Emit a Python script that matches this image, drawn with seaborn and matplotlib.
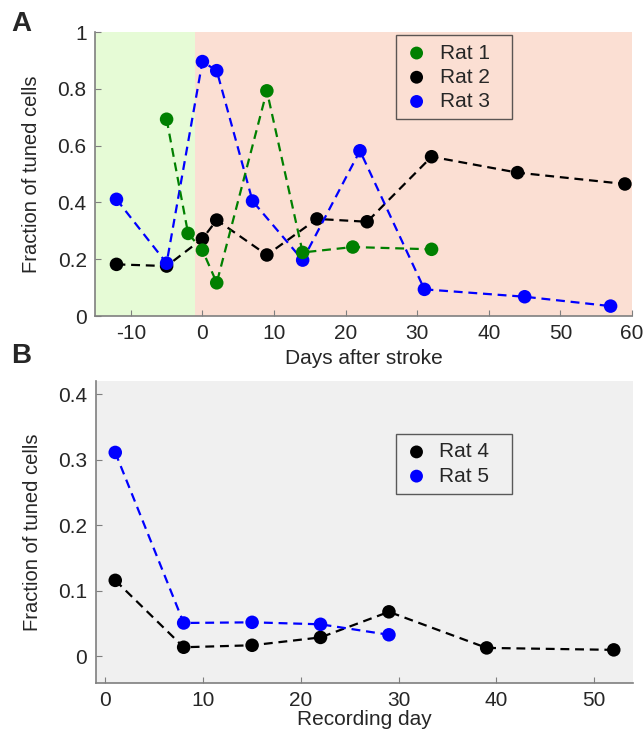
import numpy as np
import pandas as pd
import matplotlib
matplotlib.use('Agg')
import matplotlib.pyplot as plt
import seaborn as sns

# Panel A: fraction of tuned cells vs days after stroke
rat1_days = [-5, -2, 0, 2, 9, 14, 21, 32]
rat1_frac = [0.693, 0.291, 0.232, 0.117, 0.793, 0.224, 0.243, 0.235]
rat2_days = [-12, -5, 0, 2, 9, 16, 23, 32, 44, 59]
rat2_frac = [0.182, 0.176, 0.272, 0.338, 0.215, 0.342, 0.332, 0.561, 0.505, 0.465]
rat3_days = [-12, -5, 0, 2, 7, 14, 22, 31, 45, 57]
rat3_frac = [0.411, 0.186, 0.896, 0.864, 0.405, 0.197, 0.582, 0.094, 0.068, 0.035]

# Panel B: fraction of tuned cells vs recording day
rat4_days = [1, 8, 15, 22, 29, 39, 52]
rat4_frac = [0.116, 0.014, 0.017, 0.029, 0.068, 0.013, 0.010]
rat5_days = [1, 8, 15, 22, 29]
rat5_frac = [0.311, 0.051, 0.052, 0.049, 0.033]

stroke_day = -1

colors = {'Rat 1': '#008000', 'Rat 2': '#000000', 'Rat 3': '#0000ff',
          'Rat 4': '#000000', 'Rat 5': '#0000ff'}

df_a = pd.concat([
    pd.DataFrame({'day': rat1_days, 'frac': rat1_frac, 'rat': 'Rat 1'}),
    pd.DataFrame({'day': rat2_days, 'frac': rat2_frac, 'rat': 'Rat 2'}),
    pd.DataFrame({'day': rat3_days, 'frac': rat3_frac, 'rat': 'Rat 3'}),
], ignore_index=True)
df_b = pd.concat([
    pd.DataFrame({'day': rat4_days, 'frac': rat4_frac, 'rat': 'Rat 4'}),
    pd.DataFrame({'day': rat5_days, 'frac': rat5_frac, 'rat': 'Rat 5'}),
], ignore_index=True)

sns.set_theme(style='white')
plt.rcParams['font.family'] = ['Liberation Sans', 'DejaVu Sans']
plt.rcParams['axes.unicode_minus'] = False

fig = plt.figure(figsize=(6.44, 7.35), dpi=100)
ax_a = fig.add_axes([0.1475, 0.570, 0.834, 0.3864])
ax_b = fig.add_axes([0.1486, 0.0712, 0.8348, 0.4105])

FS = 15
TXT = '#262626'


def draw_panel(ax, df, order, zorders):
    for rat in order:
        sub = df[df['rat'] == rat]
        sns.lineplot(data=sub, x='day', y='frac', ax=ax, color=colors[rat],
                     linestyle='--', linewidth=1.6, legend=False,
                     dashes=False, zorder=zorders[rat])
        ax.lines[-1].set_dashes((4, 2.6))
        sns.scatterplot(data=sub, x='day', y='frac', ax=ax, color=colors[rat],
                        s=95, edgecolor='none', label=rat,
                        zorder=zorders[rat] + 0.5)


def style_axes(ax):
    for side in ['top', 'right']:
        ax.spines[side].set_visible(False)
    for side in ['left', 'bottom']:
        ax.spines[side].set_color('#7f7f7f')
        ax.spines[side].set_linewidth(1.2)
    ax.tick_params(direction='in', length=4, width=0.8, color='#7f7f7f',
                   labelsize=FS, labelcolor=TXT, pad=6,
                   left=True, bottom=True)
    ax.set_ylabel('Fraction of tuned cells', fontsize=14.5, color=TXT,
                  labelpad=12)


def add_legend(ax, anchor):
    leg = ax.legend(loc='upper left', bbox_to_anchor=anchor, mode='expand',
                    fontsize=15, frameon=True, fancybox=False,
                    borderaxespad=0, handletextpad=0.5, borderpad=0.4,
                    labelspacing=0.25, handlelength=1.2, markerscale=0.95)
    leg.get_frame().set_facecolor('none')
    leg.get_frame().set_edgecolor('#333333')
    leg.get_frame().set_linewidth(1.0)


# Panel A
ax_a.axvspan(-15, stroke_day, color='#e6fbd6', zorder=0, lw=0)
ax_a.axvspan(stroke_day, 60, color='#fbdfd3', zorder=0, lw=0)
draw_panel(ax_a, df_a, ['Rat 1', 'Rat 2', 'Rat 3'],
           {'Rat 2': 2, 'Rat 3': 3, 'Rat 1': 4})
ax_a.set_xlim(-15, 60)
ax_a.set_ylim(0, 1)
ax_a.set_xticks([-10, 0, 10, 20, 30, 40, 50, 60])
ax_a.set_yticks([0, 0.2, 0.4, 0.6, 0.8, 1])
ax_a.set_yticklabels(['0', '0.2', '0.4', '0.6', '0.8', '1'])
style_axes(ax_a)
ax_a.set_xlabel('Days after stroke', fontsize=FS, color=TXT, labelpad=4)
add_legend(ax_a, (0.56, 0.989, 0.216, 0.0))

# Panel B
ax_b.set_facecolor('#f0f0f0')
draw_panel(ax_b, df_b, ['Rat 4', 'Rat 5'], {'Rat 4': 2, 'Rat 5': 3})
ax_b.set_xlim(-1, 54)
ax_b.set_ylim(-0.04, 0.42)
ax_b.set_xticks([0, 10, 20, 30, 40, 50])
ax_b.set_yticks([0, 0.1, 0.2, 0.3, 0.4])
ax_b.set_yticklabels(['0', '0.1', '0.2', '0.3', '0.4'])
style_axes(ax_b)
ax_b.set_xlabel('Recording day', fontsize=FS, color=TXT, labelpad=0)
add_legend(ax_b, (0.558, 0.824, 0.216, 0.0))

fig.text(0.018, 0.967, 'A', fontsize=20, fontweight='bold', va='center')
fig.text(0.018, 0.516, 'B', fontsize=20, fontweight='bold', va='center')

fig.savefig('out.png', dpi=100, facecolor='white')
